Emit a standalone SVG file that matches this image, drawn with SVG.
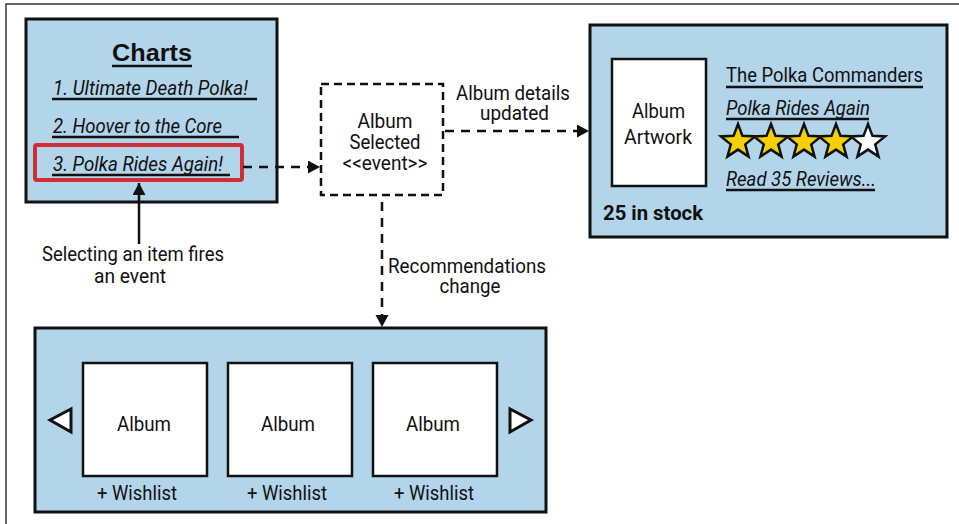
<svg xmlns="http://www.w3.org/2000/svg" width="959" height="524" viewBox="0 0 959 524">
<style>
text{font-family:Roboto,"Liberation Sans",sans-serif;font-size:21px;fill:#111}
.it{font-style:italic}
.b{font-weight:bold}
.m{text-anchor:middle}
.panel{fill:#b3d5ea;stroke:#111;stroke-width:3}
.white{fill:#fff;stroke:#111;stroke-width:2.5}
.ul{stroke:#111;stroke-width:2.5}
.dash{fill:none;stroke:#111;stroke-width:2.5;stroke-dasharray:9 7}
.solid{fill:none;stroke:#111;stroke-width:2.5}
.star{stroke:#111;stroke-width:2.5;stroke-linejoin:miter}
</style>
<defs>
<marker id="ah" markerUnits="userSpaceOnUse" markerWidth="14" markerHeight="14" refX="12" refY="6.5" orient="auto">
<path d="M0,0 L12,6.5 L0,13 Z" fill="#111"/>
</marker>
<polygon id="st" points="0,-18 4.467,-6.149 17.119,-5.562 7.228,2.349 10.58,14.562 0,7.6 -10.58,14.562 -7.228,2.349 -17.119,-5.562 -4.467,-6.149"/>
</defs>
<path d="M6,524 V4 H959" fill="none" stroke="#333" stroke-width="1.5"/>

<g id="charts">
<rect class="panel" x="26" y="19" width="251" height="183"/>
<text class="m" x="152" y="61" style="font-family:'Liberation Sans',Arial,sans-serif;font-weight:bold;font-size:24px" textLength="80" lengthAdjust="spacingAndGlyphs">Charts</text>
<line class="ul" x1="112" y1="66" x2="192" y2="66"/>
<text class="it" x="53" y="95" textLength="195" lengthAdjust="spacingAndGlyphs">1. Ultimate Death Polka!</text>
<line class="ul" x1="52" y1="99" x2="257" y2="99"/>
<text class="it" x="53" y="133" textLength="169" lengthAdjust="spacingAndGlyphs">2. Hoover to the Core</text>
<line class="ul" x1="52" y1="137" x2="239" y2="137"/>
<text class="it" x="53" y="171" textLength="170" lengthAdjust="spacingAndGlyphs">3. Polka Rides Again!</text>
<line class="ul" x1="52" y1="175" x2="230" y2="175"/>
<rect x="35" y="145" width="207" height="35" rx="2" fill="none" stroke="#cf2e36" stroke-width="4"/>
</g>

<g id="event">
<rect x="321" y="84" width="122" height="111" fill="#fff" stroke="#111" stroke-width="2.5" stroke-dasharray="8 5"/>
<text class="m" x="385" y="128" textLength="55" lengthAdjust="spacingAndGlyphs">Album</text>
<text class="m" x="385" y="149" textLength="71" lengthAdjust="spacingAndGlyphs">Selected</text>
<text class="m" x="385" y="170" textLength="85" lengthAdjust="spacingAndGlyphs">&lt;&lt;event&gt;&gt;</text>
</g>

<g id="details">
<rect class="panel" x="590" y="25" width="357" height="212"/>
<rect class="white" x="612" y="59" width="94" height="127"/>
<text class="m" x="658.5" y="118" textLength="53" lengthAdjust="spacingAndGlyphs">Album</text>
<text class="m" x="658" y="144" textLength="68" lengthAdjust="spacingAndGlyphs">Artwork</text>
<text x="726" y="82" textLength="197" lengthAdjust="spacingAndGlyphs">The Polka Commanders</text>
<line class="ul" x1="726" y1="87" x2="923" y2="87"/>
<text class="it" x="726" y="115" textLength="144" lengthAdjust="spacingAndGlyphs">Polka Rides Again</text>
<line class="ul" x1="726" y1="119" x2="869" y2="119"/>
<use href="#st" x="738" y="142" class="star" fill="#f5d000"/>
<use href="#st" x="771" y="142" class="star" fill="#f5d000"/>
<use href="#st" x="804" y="142" class="star" fill="#f5d000"/>
<use href="#st" x="836" y="142" class="star" fill="#f5d000"/>
<use href="#st" x="868" y="142" class="star" fill="#fff"/>
<text class="it" x="726" y="186" textLength="150" lengthAdjust="spacingAndGlyphs">Read 35 Reviews...</text>
<line class="ul" x1="726" y1="190" x2="875" y2="190"/>
<text class="b" x="603" y="220" textLength="100" lengthAdjust="spacingAndGlyphs">25 in stock</text>
</g>

<g id="recommendations">
<rect class="panel" x="35" y="328" width="511" height="184"/>
<polygon points="50,420 71,409 71,432" fill="#fff" stroke="#111" stroke-width="3" stroke-linejoin="miter"/>
<polygon points="531,420 510,409 510,432" fill="#fff" stroke="#111" stroke-width="3" stroke-linejoin="miter"/>
<rect class="white" x="83" y="363" width="124" height="113"/>
<rect class="white" x="228" y="363" width="124" height="113"/>
<rect class="white" x="373" y="363" width="124" height="113"/>
<text class="m" x="144" y="431" textLength="54" lengthAdjust="spacingAndGlyphs">Album</text>
<text class="m" x="288" y="431" textLength="54" lengthAdjust="spacingAndGlyphs">Album</text>
<text class="m" x="433" y="431" textLength="54" lengthAdjust="spacingAndGlyphs">Album</text>
<text class="m" x="137" y="500" textLength="80" lengthAdjust="spacingAndGlyphs">+ Wishlist</text>
<text class="m" x="287" y="500" textLength="80" lengthAdjust="spacingAndGlyphs">+ Wishlist</text>
<text class="m" x="434" y="500" textLength="80" lengthAdjust="spacingAndGlyphs">+ Wishlist</text>
</g>

<g id="connectors">
<line class="solid" x1="139" y1="244" x2="139" y2="183" marker-end="url(#ah)"/>
<text class="m" x="133" y="261" textLength="182" lengthAdjust="spacingAndGlyphs">Selecting an item fires</text>
<text class="m" x="130" y="283" textLength="72" lengthAdjust="spacingAndGlyphs">an event</text>
<line class="dash" x1="243" y1="167" x2="320" y2="167" marker-end="url(#ah)"/>
<line class="dash" x1="445" y1="131" x2="589" y2="131" marker-end="url(#ah)"/>
<text x="456" y="100" textLength="114" lengthAdjust="spacingAndGlyphs">Album details</text>
<text class="m" x="514.5" y="120" textLength="69" lengthAdjust="spacingAndGlyphs">updated</text>
<line class="dash" x1="382" y1="202" x2="382" y2="327" marker-end="url(#ah)"/>
<text x="388" y="273" textLength="158" lengthAdjust="spacingAndGlyphs">Recommendations</text>
<text class="m" x="470" y="293" textLength="61" lengthAdjust="spacingAndGlyphs">change</text>
</g>
</svg>
